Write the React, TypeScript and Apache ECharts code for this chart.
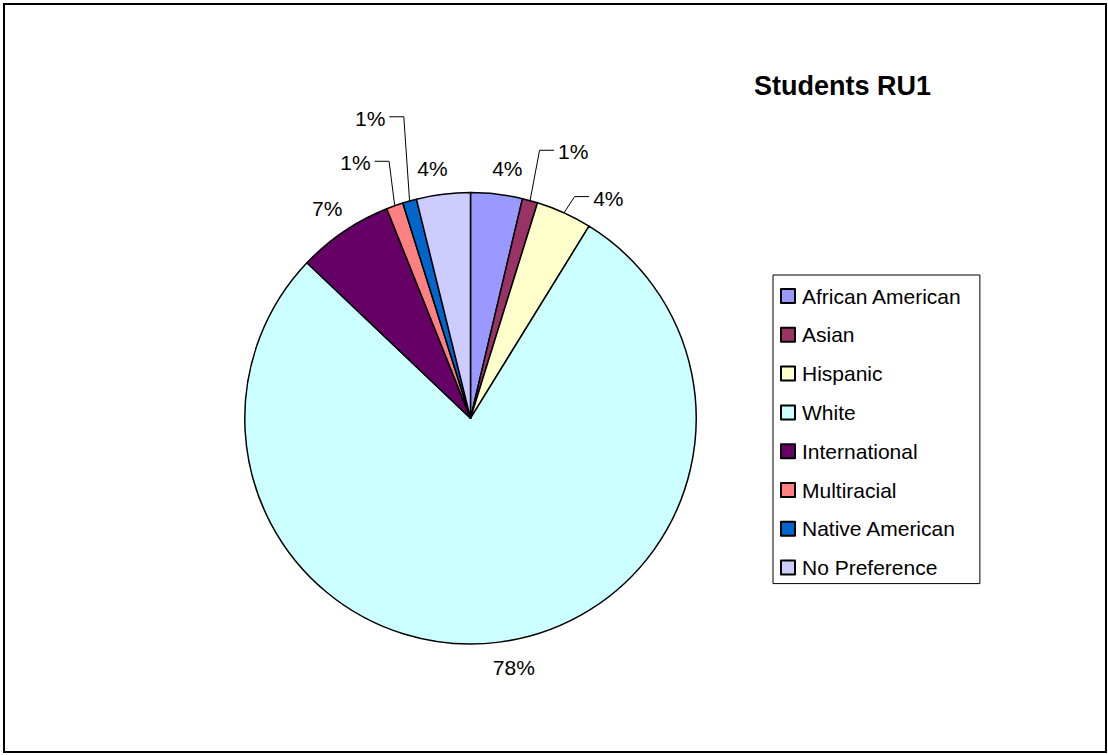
import { useEffect, useRef } from 'react';
import * as echarts from 'echarts';

// ---- data ----
const categories: string[] = [
  'African American',
  'Asian',
  'Hispanic',
  'White',
  'International',
  'Multiracial',
  'Native American',
  'No Preference',
];
const shares: number[] = [3.7, 1.1, 4.0, 78.3, 6.85, 1.2, 1.0, 3.85];
const colors: string[] = ['#9999FF', '#993366', '#FFFFCC', '#CCFFFF', '#660066', '#FF8080', '#0066CC', '#CCCCFF'];
const titleText = 'Students RU1';

// ---- layout / style ----
const FONT = '"Liberation Sans", Arial, sans-serif';
const CX = 470.5;
const CY = 418.3;
const R = 225.7;
const LABEL_GAP = 13.5;
// manual offsets of labels that were dragged away (with leader lines) in the original
const labelShift: Record<string, [number, number]> = {
  Asian: [30.5, -23.8],
  Hispanic: [29.6, 9.5],
  Multiracial: [-25.7, -18.2],
  'Native American': [-26.7, -57.7],
};

export default function App() {
  const ref = useRef<HTMLDivElement>(null);
  useEffect(() => {
    if (!ref.current) return;
    const chart = echarts.init(ref.current, undefined, { renderer: 'svg' });
    const total = shares.reduce((a, b) => a + b, 0);

    const data = categories.map((name, i) => ({
      name,
      value: shares[i],
      itemStyle: { color: colors[i] },
      labelLine: { show: !!labelShift[name] },
    }));

    chart.setOption({
      animation: false,
      backgroundColor: '#ffffff',
      title: {
        text: titleText,
        left: 754,
        top: 72,
        padding: 0,
        textStyle: { fontFamily: FONT, fontSize: 27, fontWeight: 'bold', color: '#000' },
      },
      legend: {
        orient: 'vertical',
        left: 773,
        top: 275,
        padding: [9, 18, 4, 7],
        itemGap: 14.8,
        itemWidth: 14,
        itemHeight: 14,
        icon: 'rect',
        borderColor: '#000',
        borderWidth: 1,
        data: categories,
        selectedMode: false,
        textStyle: { fontFamily: FONT, fontSize: 21, color: '#000', lineHeight: 24, padding: [0, 0, 0, 2] },
      },
      graphic: [
        {
          type: 'rect',
          shape: { x: 4, y: 4, width: 1102, height: 748 },
          style: { fill: 'none', stroke: '#000', lineWidth: 2 },
          silent: true,
        },
      ],
      series: [
        {
          type: 'pie',
          center: [CX, CY],
          radius: R,
          startAngle: 90,
          clockwise: true,
          avoidLabelOverlap: false,
          silent: true,
          emphasis: { disabled: true },
          itemStyle: { borderColor: '#000', borderWidth: 1.5 },
          label: {
            show: true,
            position: 'outside',
            fontFamily: FONT,
            fontSize: 21,
            color: '#000',
            formatter: (p: any) => Math.round((p.value / total) * 100) + '%',
          },
          labelLine: { show: false, lineStyle: { color: '#000', width: 1 } },
          labelLayout: (p: any) => {
            const i = p.dataIndex;
            let before = 0;
            for (let k = 0; k < i; k++) before += shares[k];
            const mid = ((before + shares[i] / 2) / total) * Math.PI * 2;
            const s = Math.sin(mid);
            const c = Math.cos(mid);
            const w = p.labelRect.width;
            const h = 24;
            const d = R + LABEL_GAP;
            let x = CX + d * s + Math.sign(s) * (w / 2) * 0.6;
            let y = CY - d * c - Math.sign(c) * (h / 2);
            const shift = labelShift[categories[i]];
            if (!shift) {
              return { x, y, align: 'center', verticalAlign: 'middle' };
            }
            x += shift[0];
            y += shift[1];
            const side = shift[0] >= 0 ? 1 : -1;
            const edge = x - side * (w / 2 + 4);
            const bend = edge - side * 14.5;
            const ly = y - 1.5;
            return {
              x,
              y,
              align: 'center',
              verticalAlign: 'middle',
              labelLinePoints: [
                [CX + R * s, CY - R * c],
                [bend, ly],
                [edge, ly],
              ],
            };
          },
          data,
        },
      ],
    });
    return () => chart.dispose();
  }, []);

  return (
    <div
      ref={ref}
      style={{ position: 'absolute', left: 0, top: 0, width: 1108, height: 755, background: '#fff' }}
    />
  );
}
